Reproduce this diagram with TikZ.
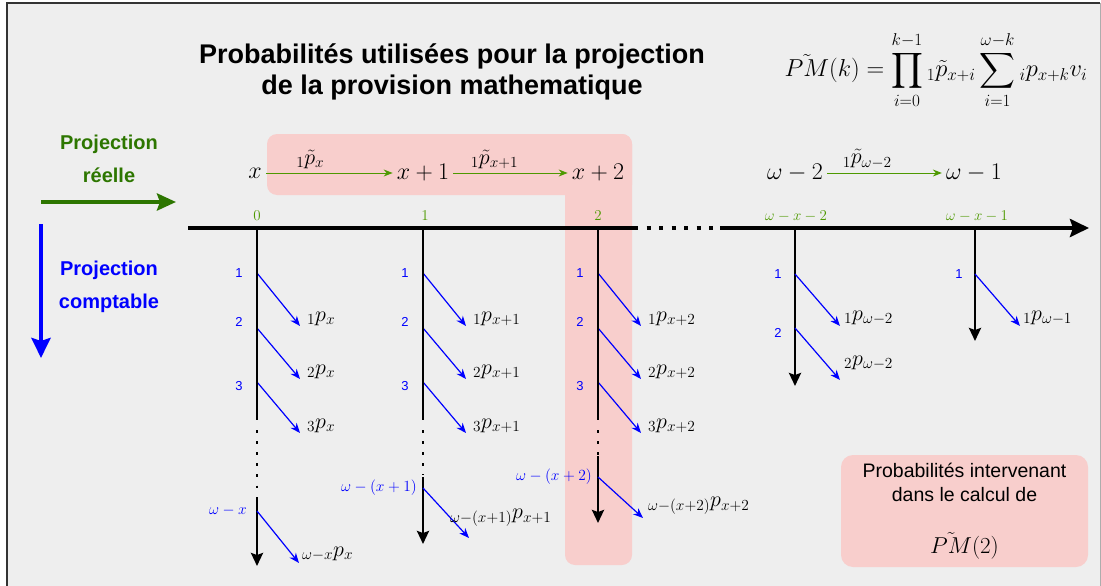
\RequirePackage{fix-cm}
\documentclass[tikz,border=0pt]{standalone}
\usepackage{amsmath}
\usepackage{fontspec}
\setmainfont{Liberation Sans}
\usepackage{tikz}
\usetikzlibrary{arrows.meta, positioning, backgrounds}
\definecolor{bgGray}{HTML}{EEEEEE}
\definecolor{frameGray}{HTML}{333333}
\definecolor{pinkHL}{HTML}{F8CECC}
\definecolor{realGreen}{HTML}{2D7600}
\definecolor{tickGreen}{HTML}{4D9900}
\definecolor{compBlue}{HTML}{0000FF}

\begin{document}
\begin{tikzpicture}[
    x=1pt, y=-1pt,
    title/.style={font=\fontsize{27}{31}\selectfont\bfseries, align=center},
    formula/.style={font=\fontsize{24.5}{28}\selectfont},
    state/.style={font=\fontsize{24}{28}\selectfont, inner sep=4pt},
    trans/.style={font=\fontsize{22}{26}\selectfont, inner sep=1pt},
    sidelabel/.style={font=\fontsize{20}{33}\selectfont\bfseries, align=center},
    ticklabel/.style={font=\fontsize{15}{17}\selectfont, text=tickGreen},
    yearnum/.style={font=\fontsize{13}{15}\selectfont, text=compBlue},
    yearend/.style={font=\fontsize{15.5}{18}\selectfont, text=compBlue, anchor=east, inner sep=1pt},
    probl/.style={font=\fontsize{22}{26}\selectfont, anchor=west, inner sep=0pt},
    pinkbox/.style={rectangle, fill=pinkHL, rounded corners=12pt,
        minimum width=247pt, minimum height=112pt, align=center,
        font=\fontsize{19.5}{24}\selectfont},
    realarrow/.style={-{Stealth[length=9pt,width=7pt]}, draw=tickGreen, line width=1pt},
    survarrow/.style={-{Stealth[length=10pt,width=8pt]}, draw=compBlue, line width=1.2pt},
    colline/.style={line width=2.6pt, black},
    colarrow/.style={colline, -{Stealth[length=13pt,width=12pt,inset=2pt]}},
    coldots/.style={line width=2.6pt, dash pattern=on 2.6pt off 8.5pt}
]
\useasboundingbox (0,0) rectangle (1101,586);

% frame
\fill[white] (0,0) rectangle (1101,586);
\fill[bgGray] (7,3) rectangle (1101,586);
\draw[frameGray, line width=1.5pt] (7,600) -- (7,3) -- (1100,3);
\draw[frameGray!40, line width=0.6pt] (1100,3) -- (1100,600);

% highlighted probabilities
\fill[pinkHL, rounded corners=10pt] (267,134) rectangle (632,195);
\fill[pinkHL, rounded corners=10pt] (565,134) rectangle (632,565);

% title and formula
\node[title] (title) at (452,72) {Probabilités utilisées pour la projection\\de la provision mathematique};
\node[formula] (pmk) at (936,70) {$\displaystyle \tilde{PM}(k)=\prod_{i=0}^{k-1}{}_1\tilde{p}_{x+i}\sum_{i=1}^{\omega-k}{}_ip_{x+k}v_i$};

% side legend
\node[sidelabel, text=realGreen] (reel) at (109,159) {Projection\\réelle};
\coordinate (reelA) at (41,202);
\coordinate (reelB) at (176,202);
\draw[realGreen, line width=4.5pt, -{Stealth[length=19pt,width=17pt,inset=3pt]}] (reelA) -- (reelB);
\coordinate (compA) at (41,224);
\coordinate (compB) at (41,358);
\draw[compBlue, line width=4.3pt, -{Stealth[length=20pt,width=19pt,inset=3pt]}] (compA) -- (compB);
\node[sidelabel, text=compBlue] (compt) at (109,287) {Projection\\comptable};

% states
\node[state] (sx) at (255,173) {$x$};
\node[state] (sx1) at (423,173) {$x+1$};
\node[state] (sx2) at (598,173) {$x+2$};
\node[state] (sw2) at (795,173) {$\omega-2$};
\node[state] (sw1) at (974,173) {$\omega-1$};
\draw[realarrow] (sx) -- node[trans, above=3pt, pos=0.35] {${}_1\tilde{p}_x$} (sx1);
\draw[realarrow] (sx1) -- node[trans, above=3pt, pos=0.36] {${}_1\tilde{p}_{x+1}$} (sx2);
\draw[realarrow] (sw2) -- node[trans, above=3pt, pos=0.35] {${}_1\tilde{p}_{\omega-2}$} (sw1);

% time axis
\coordinate (ax0) at (188,228);
\coordinate (axd1) at (634,228);
\coordinate (axd2) at (720,228);
\coordinate (axend) at (1089,228);
\draw[line width=4pt] (ax0) -- (axd1);
\draw[line width=4pt, dash pattern=on 4pt off 8.5pt] (axd1) -- (axd2);
\draw[line width=4pt, -{Stealth[length=19pt,width=18pt,inset=3pt]}] (axd2) -- (axend);

\node[ticklabel] (t0) at (257,216) {$0$};
\node[ticklabel] (t1) at (425,216) {$1$};
\node[ticklabel] (t2) at (598,216) {$2$};
\node[ticklabel] (t3) at (796,216) {$\omega-x-2$};
\node[ticklabel] (t4) at (977,216) {$\omega-x-1$};

% accounting columns
\foreach \cx/\cn/\sub in {257/0/x, 423/1/x+1, 598/2/x+2} {
    \foreach \r/\ys/\ye/\yn in {1/273/326/273, 2/328/379/322, 3/382/433/386} {
        \node[yearnum] (n\cn\r) at (\cx-18,\yn) {\r};
        \coordinate (s\cn\r) at (\cx,\ys);
        \coordinate (e\cn\r) at (\cx+43,\ye);
        \draw[survarrow] (s\cn\r) -- (e\cn\r);
        \node[probl] (p\cn\r) at (\cx+50,\ye-7) {${}_{\r}p_{\sub}$};
    }
}

% column x
\draw[colline] (257,228) -- (257,420);
\draw[coldots] (257,430) -- (257,490);
\draw[colarrow] (257,497) -- (257,566);
\node[yearend] (w0) at (248,511) {$\omega-x$};
\coordinate (sw0) at (257,511);
\coordinate (ew0) at (299,563);
\draw[survarrow] (sw0) -- (ew0);
\node[probl] (pw0) at (302,554) {${}_{\omega-x}p_x$};

% column x+1
\draw[colline] (423,228) -- (423,420);
\draw[coldots] (423,430) -- (423,475);
\draw[colarrow] (423,477) -- (423,544);
\node[yearend] (w1) at (418,488) {$\omega-(x+1)$};
\coordinate (sw1c) at (423,488);
\coordinate (ew1c) at (469,538);
\draw[survarrow] (sw1c) -- (ew1c);
\node[probl] (pw1) at (450,518) {${}_{\omega-(x+1)}p_{x+1}$};

% column x+2
\draw[colline] (598,228) -- (598,420);
\draw[coldots] (598,430) -- (598,455);
\draw[colarrow] (598,456) -- (598,523);
\node[yearend] (w2) at (593,477) {$\omega-(x+2)$};
\coordinate (sw2c) at (598,477);
\coordinate (ew2c) at (643,518);
\draw[survarrow] (sw2c) -- (ew2c);
\node[probl] (pw2) at (648,506) {${}_{\omega-(x+2)}p_{x+2}$};

% column omega-x-2
\draw[colarrow] (795,228) -- (795,386);
\node[yearnum] (n31) at (778,274) {1};
\node[yearnum] (n32) at (778,333) {2};
\coordinate (s31) at (795,274);
\coordinate (e31) at (840,326);
\coordinate (s32) at (795,328);
\coordinate (e32) at (840,380);
\draw[survarrow] (s31) -- (e31);
\draw[survarrow] (s32) -- (e32);
\node[probl] (p31) at (844,318) {${}_1p_{\omega-2}$};
\node[probl] (p32) at (844,363) {${}_2p_{\omega-2}$};

% column omega-x-1
\draw[colarrow] (975,228) -- (975,341);
\node[yearnum] (n41) at (959,274) {1};
\coordinate (s41) at (975,274);
\coordinate (e41) at (1020,326);
\draw[survarrow] (s41) -- (e41);
\node[probl] (p41) at (1023,318) {${}_1p_{\omega-1}$};

% legend box
\node[pinkbox] (legend) at (964.5,511) {Probabilités intervenant\\dans le calcul de\\[28pt]{\fontsize{23}{26}\selectfont$\tilde{PM}(2)$}};

\end{tikzpicture}
\end{document}
